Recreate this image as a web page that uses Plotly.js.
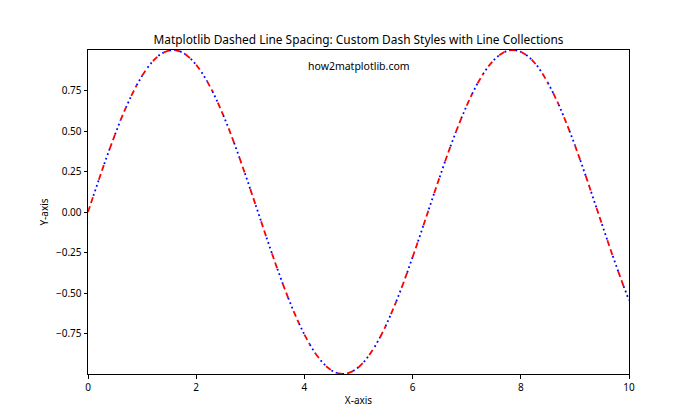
<!DOCTYPE html>
<html>
<head>
<meta charset="utf-8">
<script src="https://cdn.plot.ly/plotly-3.0.1.min.js"></script>
<style>html,body{margin:0;padding:0;background:#fff;}#chart{width:700px;height:420px;}</style>
</head>
<body>
<div id="chart"></div>
<script>
// x positions (sampled along the curve)
const xValues = [0.0,0.1,0.2,0.3,0.4,0.5,0.6,0.7,0.8,0.9,1.0,1.1,1.2,1.3,1.4,1.5,1.6,1.7,1.8,1.9,
  2.0,2.1,2.2,2.3,2.4,2.5,2.6,2.7,2.8,2.9,3.0,3.1,3.2,3.3,3.4,3.5,3.6,3.7,3.8,3.9,
  4.0,4.1,4.2,4.3,4.4,4.5,4.6,4.7,4.8,4.9,5.0,5.1,5.2,5.3,5.4,5.5,5.6,5.7,5.8,5.9,
  6.0,6.1,6.2,6.3,6.4,6.5,6.6,6.7,6.8,6.9,7.0,7.1,7.2,7.3,7.4,7.5,7.6,7.7,7.8,7.9,
  8.0,8.1,8.2,8.3,8.4,8.5,8.6,8.7,8.8,8.9,9.0,9.1,9.2,9.3,9.4,9.5,9.6,9.7,9.8,9.9,10.0];
// y values
const yValues = [0.000,0.100,0.199,0.296,0.389,0.479,0.565,0.644,0.717,0.783,0.841,0.891,0.932,0.964,0.985,0.997,1.000,0.992,0.974,0.946,
  0.909,0.863,0.808,0.746,0.675,0.598,0.516,0.427,0.335,0.239,0.141,0.042,-0.058,-0.158,-0.256,-0.351,-0.443,-0.530,-0.612,-0.688,
  -0.757,-0.818,-0.872,-0.916,-0.952,-0.978,-0.994,-1.000,-0.996,-0.982,-0.959,-0.926,-0.883,-0.832,-0.773,-0.706,-0.631,-0.551,-0.465,-0.374,
  -0.279,-0.182,-0.083,0.017,0.117,0.215,0.312,0.405,0.494,0.578,0.657,0.729,0.794,0.850,0.899,0.938,0.968,0.988,0.999,0.999,
  0.989,0.970,0.941,0.904,0.855,0.798,0.734,0.663,0.585,0.501,0.412,0.319,0.223,0.124,0.025,-0.075,-0.174,-0.272,-0.366,-0.458,-0.544];

const xTickVals = [0,2,4,6,8,10];
const xTickText = ["0","2","4","6","8","10"];
const yTickVals = [-0.75,-0.5,-0.25,0,0.25,0.5,0.75];
const yTickText = ["\u22120.75","\u22120.50","\u22120.25","0.00","0.25","0.50","0.75"];

const titleText = "Matplotlib Dashed Line Spacing: Custom Dash Styles with Line Collections";
const watermark = "how2matplotlib.com";

// build alternating segment collections (even segments: red dashed, odd: blue dotted)
function buildSegments(parity) {
  const xs = [], ys = [];
  for (let i = 0; i < xValues.length - 1; i++) {
    if (i % 2 !== parity) continue;
    xs.push(xValues[i], xValues[i+1], null);
    ys.push(yValues[i], yValues[i+1], null);
  }
  return {xs, ys};
}
const redSeg = buildSegments(0);
const blueSeg = buildSegments(1);

const traces = [
  {x: redSeg.xs, y: redSeg.ys, type: 'scatter', mode: 'lines', connectgaps: false,
   line: {color: 'red', width: 1.8, dash: '6px,3.5px'}, hoverinfo: 'skip', showlegend: false},
  {x: blueSeg.xs, y: blueSeg.ys, type: 'scatter', mode: 'lines', connectgaps: false,
   line: {color: 'blue', width: 1.8, dash: '1.8px,3px'}, hoverinfo: 'skip', showlegend: false}
];

const fontFam = '"Noto Sans", "DejaVu Sans", sans-serif';
const layout = {
  width: 700, height: 420,
  margin: {l: 88, r: 71, t: 50, b: 46},
  paper_bgcolor: '#fff', plot_bgcolor: '#fff',
  font: {family: fontFam, color: '#000', size: 10},
  title: {text: titleText, x: 0.5, xref: 'paper', xanchor: 'center',
          y: 1 - 40/420, yref: 'container', yanchor: 'middle',
          font: {family: fontFam, size: 11.9, color: '#000'}},
  xaxis: {range: [0, 10], tickvals: xTickVals, ticktext: xTickText,
          showgrid: false, zeroline: false, showline: true, mirror: true,
          linecolor: '#000', linewidth: 1, ticks: 'outside', ticklen: 3.5, tickcolor: '#000',
          tickfont: {size: 10, color: '#000'},
          title: {text: 'X-axis', font: {size: 10, color: '#000'}, standoff: 4}},
  yaxis: {range: [-1, 1], tickvals: yTickVals, ticktext: yTickText,
          showgrid: false, zeroline: false, showline: true, mirror: true,
          linecolor: '#000', linewidth: 1, ticks: 'outside', ticklen: 3.5, tickcolor: '#000',
          tickfont: {size: 10, color: '#000'},
          title: {text: 'Y-axis', font: {size: 10, color: '#000'}, standoff: 5}},
  annotations: [{text: watermark, xref: 'paper', yref: 'paper', x: 0.5, y: 0.95,
                 xanchor: 'center', yanchor: 'middle', showarrow: false,
                 font: {family: fontFam, size: 10.5, color: '#000'}}]
};

Plotly.newPlot('chart', traces, layout, {displayModeBar: false, staticPlot: true});
</script>
</body>
</html>
